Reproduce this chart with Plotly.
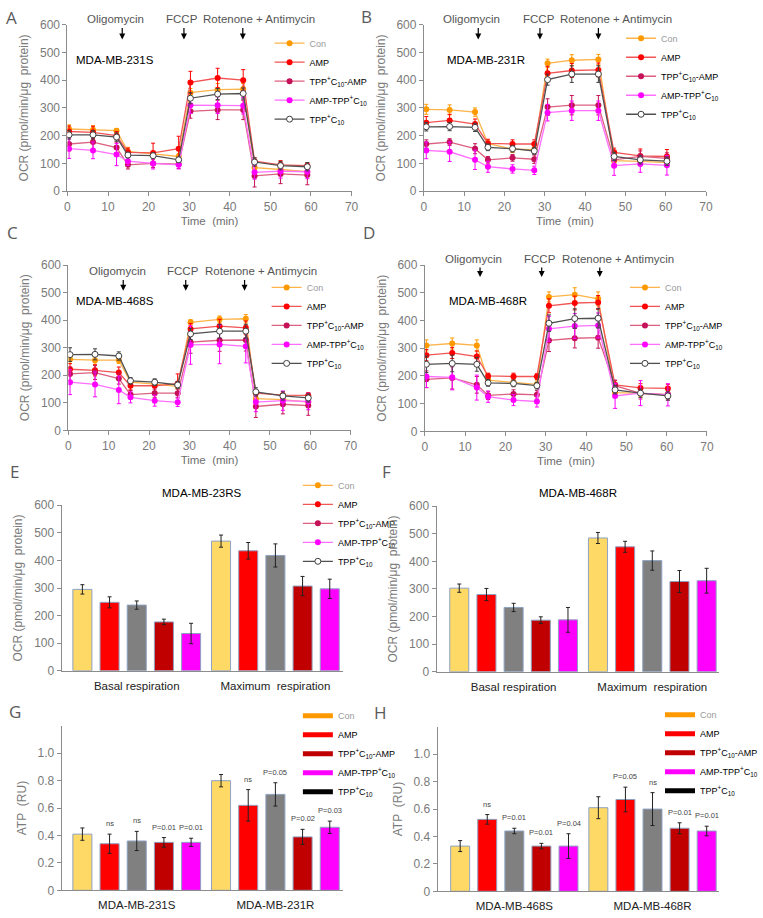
import plotly.graph_objects as go

W, H = 763, 918
FONT = "Liberation Sans, Arial, sans-serif"

# ---------------- data ----------------
SERIES = ["Con", "AMP", "TPP+C10-AMP", "AMP-TPP+C10", "TPP+C10"]
LEGEND_LABELS = [
    '<span style="color:#9a9a9a">Con</span>',
    "AMP",
    "TPP<sup>+</sup>C<sub>10</sub>-AMP",
    "AMP-TPP<sup>+</sup>C<sub>10</sub>",
    "TPP<sup>+</sup>C<sub>10</sub>",
]

# time points (min) of each Seahorse run
TIME_231S = [0.4, 6.3, 12.1, 14.9, 21.1, 27.4, 30.3, 37.0, 43.3, 46.1, 52.5, 59.1]
TIME_231R = [0.6, 6.4, 12.7, 15.9, 22.0, 27.4, 30.7, 36.7, 43.3, 47.2, 53.7, 60.3]
TIME_468S = [0.4, 6.6, 12.5, 15.4, 21.4, 27.1, 30.3, 37.5, 44.0, 46.5, 53.2, 59.5]
TIME_468R = [0.4, 6.8, 12.9, 15.7, 22.0, 27.8, 30.8, 37.2, 43.0, 47.2, 53.5, 60.3]

# OCR means (pmol/min/ug protein), order of SERIES
OCR_231S = [
    [224, 221, 218, 143, 134, 125, 355, 366, 368, 85, 78, 70],
    [215, 212, 200, 140, 138, 153, 392, 408, 400, 108, 95, 92],
    [170, 177, 157, 95, 100, 97, 288, 293, 293, 55, 62, 58],
    [153, 147, 132, 108, 100, 95, 310, 310, 308, 68, 72, 70],
    [203, 203, 195, 130, 128, 113, 335, 350, 352, 105, 92, 88],
]
ERR_231S = [
    [15, 15, 8, 15, 10, 10, 15, 22, 20, 15, 12, 10],
    [20, 22, 15, 15, 35, 45, 40, 35, 38, 12, 15, 10],
    [25, 25, 20, 15, 15, 15, 25, 35, 35, 40, 35, 35],
    [35, 30, 40, 15, 20, 15, 30, 30, 30, 25, 25, 25],
    [15, 15, 15, 10, 10, 10, 20, 20, 20, 15, 15, 15],
]
OCR_231R = [
    [295, 293, 285, 172, 151, 150, 461, 472, 475, 110, 107, 103],
    [247, 255, 242, 172, 170, 170, 425, 435, 437, 140, 127, 125],
    [170, 177, 153, 113, 120, 115, 303, 310, 310, 113, 125, 118],
    [147, 142, 113, 88, 80, 75, 283, 290, 290, 92, 98, 93],
    [232, 233, 230, 158, 153, 145, 402, 422, 422, 125, 113, 108],
]
ERR_231R = [
    [18, 18, 15, 10, 12, 12, 15, 20, 18, 10, 10, 10],
    [22, 22, 18, 15, 15, 15, 25, 25, 25, 15, 25, 25],
    [15, 12, 18, 12, 12, 15, 30, 35, 35, 15, 20, 20],
    [30, 35, 35, 20, 15, 15, 30, 35, 35, 35, 30, 35],
    [15, 15, 15, 12, 12, 12, 20, 30, 30, 15, 15, 15],
]
OCR_468S = [
    [258, 255, 255, 175, 168, 160, 392, 403, 405, 115, 112, 103],
    [222, 218, 210, 162, 162, 170, 368, 378, 372, 135, 128, 127],
    [205, 210, 188, 130, 135, 135, 320, 327, 328, 87, 95, 90],
    [175, 167, 147, 120, 108, 102, 310, 312, 305, 103, 108, 105],
    [275, 276, 270, 180, 175, 165, 350, 360, 360, 140, 125, 118],
]
ERR_468S = [
    [15, 15, 12, 10, 10, 10, 10, 12, 15, 10, 10, 10],
    [20, 20, 20, 15, 20, 35, 20, 25, 25, 10, 12, 10],
    [25, 25, 20, 15, 15, 15, 40, 40, 40, 40, 35, 35],
    [45, 45, 50, 20, 20, 15, 70, 70, 60, 35, 35, 30],
    [25, 20, 15, 12, 12, 12, 20, 25, 25, 15, 15, 15],
]
OCR_468R = [
    [310, 317, 310, 185, 177, 170, 485, 493, 478, 140, 137, 133],
    [275, 283, 270, 200, 198, 198, 453, 463, 465, 168, 157, 155],
    [188, 193, 168, 130, 135, 132, 328, 336, 338, 165, 137, 133],
    [198, 195, 158, 125, 113, 108, 370, 380, 382, 128, 138, 132],
    [242, 245, 242, 175, 173, 165, 390, 407, 408, 150, 138, 128],
]
ERR_468R = [
    [20, 20, 20, 10, 15, 15, 18, 25, 25, 12, 12, 10],
    [20, 20, 20, 10, 12, 10, 25, 25, 25, 15, 15, 15],
    [30, 40, 30, 15, 15, 15, 40, 35, 38, 20, 20, 20],
    [40, 45, 45, 20, 20, 20, 45, 45, 45, 45, 45, 40],
    [30, 30, 25, 12, 12, 12, 30, 35, 35, 15, 15, 15],
]

INJECTIONS = ["Oligomycin", "FCCP", "Rotenone + Antimycin"]
INJ_TIME = {"231S": [13.5, 28.7, 43.2], "231R": [13.5, 28.8, 43.3],
            "468S": [13.6, 29.1, 43.7], "468R": [13.7, 29.0, 43.4]}
INJ_LABEL_X = {"231S": [11.8, 28.2, 47.1], "231R": [11.9, 28.6, 47.7],
               "468S": [12.1, 28.5, 47.8], "468R": [12.1, 28.6, 47.9]}

# bar panels: order of bars
BAR_SERIES = ["Con", "AMP", "TPP+C10", "TPP+C10-AMP", "AMP-TPP+C10"]
RESP_CATS = ["Basal respiration", "Maximum\u00a0 respiration"]
RESP_231 = [[295, 470], [248, 435], [238, 418], [177, 307], [135, 297]]
RESP_231_ERR = [[17, 22], [20, 30], [15, 42], [10, 35], [37, 35]]
RESP_468 = [[303, 485], [280, 453], [233, 403], [187, 327], [188, 330]]
RESP_468_ERR = [[15, 20], [22, 20], [15, 35], [12, 40], [45, 45]]

ATP_CATS_231 = ["MDA-MB-231S", "MDA-MB-231R"]
ATP_231 = [[0.41, 0.80], [0.34, 0.62], [0.36, 0.70], [0.35, 0.39], [0.35, 0.46]]
ATP_231_ERR = [[0.045, 0.045], [0.07, 0.115], [0.07, 0.085], [0.035, 0.055], [0.03, 0.045]]
ATP_231_P = [["", ""], ["ns", "ns"], ["ns", "P=0.05"], ["P=0.01", "P=0.02"], ["P=0.01", "P=0.03"]]
ATP_CATS_468 = ["MDA-MB-468S", "MDA-MB-468R"]
ATP_468 = [[0.33, 0.61], [0.525, 0.67], [0.44, 0.60], [0.33, 0.46], [0.33, 0.44]]
ATP_468_ERR = [[0.04, 0.08], [0.035, 0.09], [0.02, 0.12], [0.02, 0.04], [0.09, 0.035]]
ATP_468_P = [["", ""], ["ns", "P=0.05"], ["P=0.01", "ns"], ["P=0.01", "P=0.01"], ["P=0.04", "P=0.01"]]

OCR_TICKS = [0, 100, 200, 300, 400, 500, 600]
ATP_TICKS = [0, 0.2, 0.4, 0.6, 0.8, 1.0]
ATP_TICKTEXT = ["0", "0.2", "0.4", "0.6", "0.8", "1.0"]
TIME_TICKS = [0, 10, 20, 30, 40, 50, 60, 70]

# ---------------- styles ----------------
LINE_STYLE = {
    "Con": dict(line="#FDB44B", marker="#FF9900", symbol="circle"),
    "AMP": dict(line="#F25555", marker="#FF0000", symbol="circle"),
    "TPP+C10-AMP": dict(line="#DC6080", marker="#C41158", symbol="circle"),
    "AMP-TPP+C10": dict(line="#FF6EFF", marker="#FF00FF", symbol="circle"),
    "TPP+C10": dict(line="#505050", marker="#404040", symbol="circle-open"),
}
BAR_COLOR = {"Con": "#FFD966", "AMP": "#FF0000", "TPP+C10": "#808080",
             "TPP+C10-AMP": "#C00000", "AMP-TPP+C10": "#FF00FF"}
SWATCH_COLOR = {"Con": "#FF9900", "AMP": "#FF0000", "TPP+C10-AMP": "#C00000",
                "AMP-TPP+C10": "#FF00FF", "TPP+C10": "#000000"}
BARGAP = 0.02
BARGROUPGAP = 0.3


def px_x(a, b):
    return [a / W, b / W]


def px_y(top, bottom):
    return [1 - bottom / H, 1 - top / H]


def legend_box(left, top):
    return dict(x=left / W, y=1 - top / H, xanchor="left", yanchor="top",
                bgcolor="rgba(0,0,0,0)", font=dict(family=FONT, size=9, color="#000"),
                itemwidth=30, tracegroupgap=0)


fig = go.Figure()

line_panels = [
    # axis idx, key, times, means, errors, x-domain px, y-domain px, legend pos(px),
    # cell label pos (data), injection label y (px), arrow tip/tail (data)
    (1, "231S", TIME_231S, OCR_231S, ERR_231S, (66, 357), (18, 187), (273, 22), (11.8, 472), 12, (547, 593)),
    (2, "231R", TIME_231R, OCR_231R, ERR_231R, (431, 720), (18, 187), (633, 17), (15.5, 472), 12, (547, 593)),
    (3, "468S", TIME_468S, OCR_468S, ERR_468S, (67, 356), (262, 430), (270, 270), (11.6, 468), 268, (507, 550)),
    (4, "468R", TIME_468R, OCR_468R, ERR_468R, (432, 721), (262, 431), (637, 270), (15.7, 471), 256, (557, 596)),
]

axis_common = dict(showgrid=False, zeroline=False, showline=True, linecolor="#8c8c8c",
                   linewidth=1, ticks="outside", ticklen=4, tickcolor="#8c8c8c",
                   tickfont=dict(family=FONT, size=12, color="#7a7a7a"))

annotations = []
layout_axes = {}

for idx, key, times, means, errs, xd, yd, lg, cell, injy, arr in line_panels:
    xa = "x" if idx == 1 else f"x{idx}"
    ya = "y" if idx == 1 else f"y{idx}"
    lgname = "legend" if idx == 1 else f"legend{idx}"
    for s, name in enumerate(SERIES):
        st = LINE_STYLE[name]
        fig.add_trace(go.Scatter(
            x=times, y=means[s], xaxis=xa, yaxis=ya, legend=lgname,
            name=LEGEND_LABELS[s], mode="lines+markers",
            line=dict(color=st["line"], width=1.3),
            marker=dict(color=st["marker"] if st["symbol"] == "circle" else "white",
                        size=6, symbol="circle",
                        line=dict(color=st["marker"], width=1 if st["symbol"] != "circle" else 0)),
            error_y=dict(type="data", array=errs[s], color=st["marker"], thickness=1, width=2),
        ))
    layout_axes["xaxis" if idx == 1 else f"xaxis{idx}"] = dict(
        axis_common, domain=px_x(*xd), range=[0, 70], tickvals=TIME_TICKS, anchor=ya,
        title=dict(text="Time\u00a0 (min)", standoff=4, font=dict(family=FONT, size=11.5, color="#6e6e6e")))
    layout_axes["yaxis" if idx == 1 else f"yaxis{idx}"] = dict(
        axis_common, domain=px_y(*yd), range=[0, 600], tickvals=OCR_TICKS, anchor=xa,
        title=dict(text="OCR (pmol/min/\u03bcg\u00a0 protein)", standoff=8,
                   font=dict(family=FONT, size=12, color="#7a7a7a")))
    fig.layout[lgname] = legend_box(*lg)
    annotations.append(dict(x=cell[0], y=cell[1], xref=xa, yref=ya, text=f"MDA-MB-{key}",
                            showarrow=False, font=dict(family=FONT, size=11.5, color="#000")))
    for j, lab in enumerate(INJECTIONS):
        annotations.append(dict(x=INJ_LABEL_X[key][j], y=1 - injy / H, xref=xa, yref="paper", text=lab,
                                xanchor="center", yanchor="middle",
                                showarrow=False, font=dict(family=FONT, size=11.5, color="#555")))
        annotations.append(dict(x=INJ_TIME[key][j], y=arr[0], xref=xa, yref=ya, text="",
                                showarrow=True, arrowhead=2, arrowsize=1, arrowwidth=1.2,
                                arrowcolor="#000", ax=0, ay=-(arr[1] - arr[0]) * 0.28, axref="pixel"))

bar_panels = [
    # idx, cats, means, errs, pvals, xdom px, ydom px, yrange, ticks, ticktext, title, xrange, ytitle
    (5, RESP_CATS, RESP_231, RESP_231_ERR, None, (60, 348), (506, 674), [0, 600], OCR_TICKS, None,
     "MDA-MB-23RS", [-0.542, 1.486], "OCR (pmol/min/\u03bcg\u00a0 protein)"),
    (6, RESP_CATS, RESP_468, RESP_468_ERR, None, (444, 733), (507, 675), [0, 600], OCR_TICKS, None,
     "MDA-MB-468R", [-0.556, 1.479], "OCR (pmol/min/\u03bcg\u00a0 protein)"),
    (7, ATP_CATS_231, ATP_231, ATP_231_ERR, ATP_231_P, (60, 348), (730, 897), [0, 1.2], ATP_TICKS,
     ATP_TICKTEXT, None, [-0.542, 1.486], "ATP\u00a0 (RU)"),
    (8, ATP_CATS_468, ATP_468, ATP_468_ERR, ATP_468_P, (445, 733), (731, 898), [0, 1.2], ATP_TICKS,
     ATP_TICKTEXT, None, [-0.556, 1.479], "ATP\u00a0 (RU)"),
]

slot = (1 - BARGAP) / len(BAR_SERIES)
for idx, cats, means, errs, pv, xd, yd, yr, tv, tt, title, xr, ytitle in bar_panels:
    xa, ya = f"x{idx}", f"y{idx}"
    for k, name in enumerate(BAR_SERIES):
        fig.add_trace(go.Bar(
            x=cats, y=means[k], xaxis=xa, yaxis=ya, name=name, showlegend=False,
            marker=dict(color=BAR_COLOR[name], line=dict(color="#8EA2C2", width=1)),
            error_y=dict(type="data", array=errs[k], color="#222", thickness=1, width=2),
        ))
        if pv:
            for i in range(len(cats)):
                if pv[k][i]:
                    xpos = i - (1 - BARGAP) / 2 + (k + 0.5) * slot
                    annotations.append(dict(
                        x=xpos, y=means[k][i] + errs[k][i], xref=xa, yref=ya, text=pv[k][i],
                        showarrow=False, yanchor="bottom", yshift=4,
                        font=dict(family=FONT, size=7.5, color="#444")))
    layout_axes[f"xaxis{idx}"] = dict(
        showgrid=False, zeroline=False, showline=True, linecolor="#8c8c8c", linewidth=1,
        ticks="", domain=px_x(*xd), range=xr, anchor=ya, type="category", ticklabelstandoff=4,
        tickfont=dict(family=FONT, size=11.5, color="#222"))
    ydict = dict(axis_common, domain=px_y(*yd), range=yr, tickvals=tv, anchor=xa,
                 title=dict(text=ytitle, standoff=8, font=dict(family=FONT, size=12, color="#7a7a7a")))
    if tt:
        ydict["ticktext"] = tt
    layout_axes[f"yaxis{idx}"] = ydict
    if title:
        annotations.append(dict(x=0.5, y=1 - 494 / H, xref=f"{xa} domain", yref="paper", text=title,
                                yanchor="middle",
                                showarrow=False, font=dict(family=FONT, size=11.5, color="#000")))

# legend for panel E (line style entries)
for s, name in enumerate(SERIES):
    st = LINE_STYLE[name]
    fig.add_trace(go.Scatter(
        x=[None], y=[None], xaxis="x5", yaxis="y5", legend="legend5", name=LEGEND_LABELS[s],
        mode="lines+markers", line=dict(color=st["line"], width=1.3),
        marker=dict(color=st["marker"] if st["symbol"] == "circle" else "white", size=6,
                    line=dict(color=st["marker"], width=1 if st["symbol"] != "circle" else 0))))
fig.layout["legend5"] = legend_box(302, 471)

# legends for panels G and H (swatch entries)
for idx, lgname, pos in [(7, "legend7", (302, 705)), (8, "legend8", (673, 704))]:
    for s, name in enumerate(SERIES):
        fig.add_trace(go.Scatter(
            x=[None], y=[None], xaxis=f"x{idx}", yaxis=f"y{idx}", legend=lgname,
            name=LEGEND_LABELS[s], mode="lines", line=dict(color=SWATCH_COLOR[name], width=5)))
    fig.layout[lgname] = legend_box(*pos)

# panel letters
for letter, lx, ly in [("A", 9, 11), ("B", 372, 10), ("C", 10, 229), ("D", 375, 229),
                       ("E", 12, 472), ("F", 393, 472), ("G", 12, 715), ("H", 387, 716)]:
    annotations.append(dict(x=lx / W, y=1 - ly / H, xref="paper", yref="paper", text=letter,
                            xanchor="center", yanchor="middle",
                            showarrow=False, font=dict(family="Open Sans, sans-serif", size=17, color="#5a5a5a")))

fig.update_layout(
    width=W, height=H, margin=dict(l=0, r=0, t=0, b=0),
    paper_bgcolor="white", plot_bgcolor="white",
    barmode="group", bargap=BARGAP, bargroupgap=BARGROUPGAP,
    annotations=annotations, font=dict(family=FONT),
    **layout_axes,
)

fig.write_html("out.html")
